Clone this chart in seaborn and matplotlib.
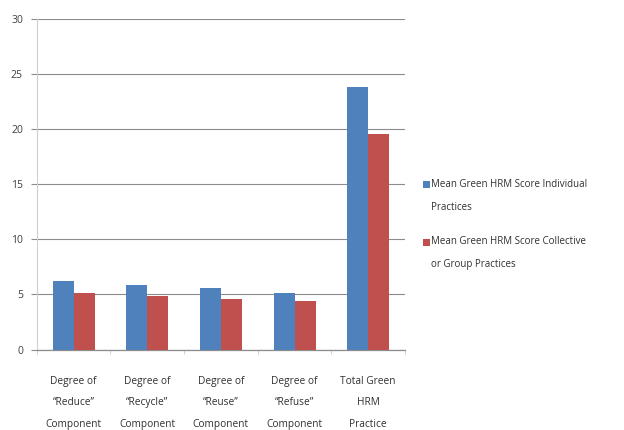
import matplotlib
matplotlib.use("Agg")
import matplotlib.pyplot as plt
import seaborn as sns
import pandas as pd
from matplotlib.patches import Rectangle

categories = ["Degree of\n\u201cReduce\u201d\nComponent", "Degree of\n\u201cRecycle\u201d\nComponent",
              "Degree of\n\u201cReuse\u201d\nComponent", "Degree of\n\u201cRefuse\u201d\nComponent",
              "Total Green\nHRM\nPractice"]
series_names = ["Mean Green HRM Score Individual\nPractices",
                "Mean Green HRM Score Collective\nor Group Practices"]
individual = [6.2, 5.85, 5.55, 5.1, 23.8]
collective = [5.1, 4.9, 4.55, 4.45, 19.6]
y_ticks = [0, 5, 10, 15, 20, 25, 30]
colors = ["#4F81BD", "#C0504D"]

df = pd.DataFrame({
    "category": categories * 2,
    "series": [series_names[0]] * len(categories) + [series_names[1]] * len(categories),
    "value": individual + collective,
})

sns.set_style("white")
plt.rcParams["font.family"] = ["Open Sans", "DejaVu Sans"]

W, H = 624, 430
fig = plt.figure(figsize=(W / 100, H / 100), dpi=100)
ax = fig.add_axes([0.059, 0.187, 0.59, 0.769])

sns.barplot(data=df, x="category", y="value", hue="series", palette=colors,
            width=0.57, gap=0, saturation=1, ax=ax, legend=False, errorbar=None,
            linewidth=0, zorder=3)

ax.set_ylim(0, 30)
ax.set_xlim(-0.5, len(categories) - 0.5)
ax.set_yticks(y_ticks)
ax.set_yticklabels([str(t) for t in y_ticks], fontsize=7.5, color="#404040")
ax.yaxis.grid(True, color="#8c8c8c", linewidth=0.8, zorder=0)
ax.set_axisbelow(True)
ax.set_xlabel("")
ax.set_ylabel("")
ax.set_xticks(range(len(categories)))
ax.set_xticklabels(categories, fontsize=7.3, color="#303030", linespacing=2.3)
ax.tick_params(axis="x", length=0, pad=19)
ax.set_xticks([i - 0.5 for i in range(len(categories) + 1)], minor=True)
ax.tick_params(axis="x", which="minor", length=3, color="#c8c8c8", direction="out", bottom=True)
ax.tick_params(axis="y", length=4, color="#8c8c8c", direction="out", left=True, pad=6)
for s in ["top", "right"]:
    ax.spines[s].set_visible(False)
ax.spines["left"].set_color("#d0d0d0")
ax.spines["bottom"].set_color("#8c8c8c")
ax.spines["bottom"].set_linewidth(0.9)

# manual legend (marker aligned with first text line)
first_line_y = [185, 242]
for name, c, yp in zip(series_names, colors, first_line_y):
    fig.patches.append(Rectangle((423 / W, 1 - (yp + 3.5) / H), 6.5 / W, 7 / H,
                                 transform=fig.transFigure, facecolor=c, edgecolor="none"))
    fig.text(431 / W, 1 - (yp - 6) / H, name, fontsize=7, color="#303030",
             va="top", ha="left", linespacing=2.45)

fig.savefig("out.png", dpi=100)
